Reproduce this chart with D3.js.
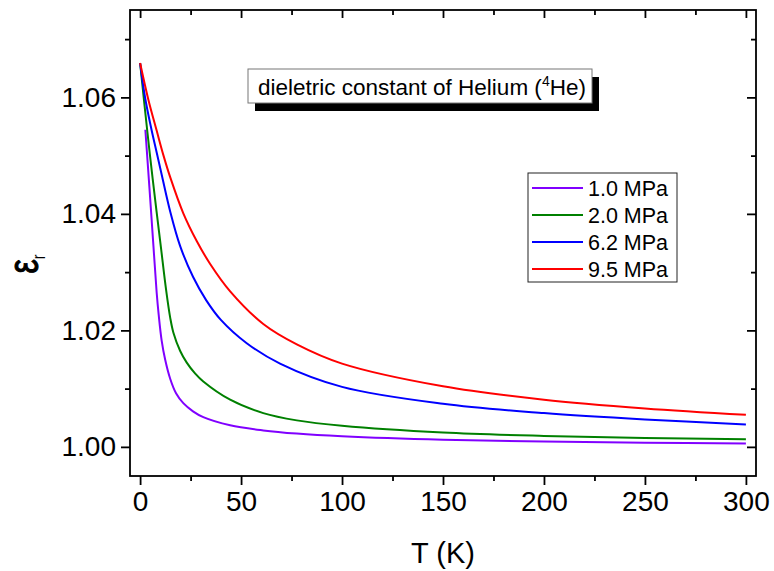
<!DOCTYPE html>
<html>
<head>
<meta charset="utf-8">
<script src="https://cdn.jsdelivr.net/npm/d3@7"></script>
<style>
  body { margin: 0; background: #fff; }
  svg { display: block; font-family: "Liberation Sans", Arial, sans-serif; }
</style>
</head>
<body>
<div id="chart"></div>
<script>
// pressures shown in the legend
const seriesNames = ["1.0 MPa", "2.0 MPa", "6.2 MPa", "9.5 MPa"];
const seriesColors = ["#8000ff", "#008000", "#0000ff", "#ff0000"];

// T (K) and eps_r, one pair of arrays per pressure
const tViolet   = [2.6, 4.6, 6.6, 8.2, 9.2, 10.7, 12.4, 14.9, 17.8, 21.4, 26.2, 31.3, 44.6, 61, 77.6, 100, 150, 200, 250, 300];
const epsViolet = [1.05445, 1.0446, 1.0345, 1.0265, 1.0227, 1.0182, 1.0150, 1.0117, 1.0092, 1.0075, 1.0061, 1.0051, 1.0037, 1.00283, 1.00228, 1.00182, 1.00122, 1.00091, 1.00072, 1.00058];

const tGreen   = [0, 3.5, 6.2, 10.3, 12.9, 14.9, 16.5, 19.8, 23.1, 27.2, 31.3, 44.6, 61, 77.6, 100, 150, 200, 250, 300];
const epsGreen = [1.0659, 1.0544, 1.0461, 1.0343, 1.0269, 1.0222, 1.0196, 1.0165, 1.01446, 1.01262, 1.01123, 1.0081, 1.0058, 1.00455, 1.00362, 1.00246, 1.00188, 1.00153, 1.00129];

const tBlue   = [0, 2.5, 5.5, 8.3, 10.9, 14.9, 19.8, 26.2, 32.7, 40, 52.8, 69.3, 100, 150, 200, 250, 300];
const epsBlue = [1.0659, 1.0599, 1.0547, 1.0504, 1.0464, 1.0404, 1.0345, 1.0292, 1.0252, 1.0218, 1.0178, 1.0143, 1.0103, 1.0074, 1.0058, 1.0047, 1.00385];

const tRed   = [0, 4.1, 8.2, 11.6, 14.9, 21.4, 28.1, 34.7, 44.6, 61, 77.6, 100, 150, 200, 250, 300];
const epsRed = [1.0659, 1.0596, 1.0543, 1.0500, 1.0463, 1.0401, 1.0353, 1.0314, 1.0267, 1.0211, 1.0176, 1.0143, 1.0104, 1.0081, 1.0066, 1.0055];

const xMajor = [0, 50, 100, 150, 200, 250, 300];
const xMinor = [25, 75, 125, 175, 225, 275];
const yMajor = [1.00, 1.02, 1.04, 1.06];
const yMinor = [1.01, 1.03, 1.05, 1.07];

const titleText = "dieletric constant of Helium (";

const W = 774, H = 571;
const margin = { top: 10, right: 18, bottom: 95, left: 130 };
const width = W - margin.left - margin.right;
const height = H - margin.top - margin.bottom;

const svg = d3.select("#chart").append("svg")
    .attr("width", W)
    .attr("height", H);

const g = svg.append("g")
    .attr("transform", `translate(${margin.left},${margin.top})`);

const x = d3.scaleLinear().domain([-5, 305]).range([0, width]);
const y = d3.scaleLinear().domain([0.995, 1.075]).range([height, 0]);

function styleAxis(sel) {
    sel.selectAll(".domain").remove();
    sel.selectAll(".tick line").attr("stroke", "#000").attr("stroke-width", 1.8);
}

function styleLabels(sel) {
    sel.selectAll("text")
        .attr("font-size", 28)
        .attr("fill", "#000")
        .attr("font-family", "Liberation Sans, Arial, sans-serif");
}

// major + minor ticks, outward on left/bottom, inward on top/right
g.append("g").attr("transform", `translate(0,${height})`)
    .call(d3.axisBottom(x).tickValues(xMajor).tickSize(9).tickPadding(6).tickFormat(d3.format("d")))
    .call(styleAxis)
    .call(styleLabels);
g.append("g").attr("transform", `translate(0,${height})`)
    .call(d3.axisBottom(x).tickValues(xMinor).tickSize(5).tickFormat(""))
    .call(styleAxis);
g.append("g")
    .call(d3.axisTop(x).tickValues(xMajor).tickSize(-8).tickFormat(""))
    .call(styleAxis);
g.append("g")
    .call(d3.axisTop(x).tickValues(xMinor).tickSize(-5).tickFormat(""))
    .call(styleAxis);

g.append("g")
    .call(d3.axisLeft(y).tickValues(yMajor).tickSize(9).tickPadding(5).tickFormat(d3.format(".2f")))
    .call(styleAxis)
    .call(styleLabels);
g.append("g")
    .call(d3.axisLeft(y).tickValues(yMinor).tickSize(5).tickFormat(""))
    .call(styleAxis);
g.append("g").attr("transform", `translate(${width},0)`)
    .call(d3.axisRight(y).tickValues(yMajor).tickSize(-9).tickFormat(""))
    .call(styleAxis);
g.append("g").attr("transform", `translate(${width},0)`)
    .call(d3.axisRight(y).tickValues(yMinor).tickSize(-5).tickFormat(""))
    .call(styleAxis);

// frame
g.append("rect")
    .attr("width", width)
    .attr("height", height)
    .attr("fill", "none")
    .attr("stroke", "#000")
    .attr("stroke-width", 1.8);

// curves
const series = [
    { t: tViolet, e: epsViolet },
    { t: tGreen, e: epsGreen },
    { t: tBlue, e: epsBlue },
    { t: tRed, e: epsRed }
];

const line = d3.line()
    .x(d => x(d[0]))
    .y(d => y(d[1]))
    .curve(d3.curveCatmullRom.alpha(0.5));

series.forEach((s, i) => {
    g.append("path")
        .datum(d3.zip(s.t, s.e))
        .attr("d", line)
        .attr("fill", "none")
        .attr("stroke", seriesColors[i])
        .attr("stroke-width", 2);
});

// title box with drop shadow
const tb = { x: 118, y: 59, w: 344, h: 34 };
g.append("rect")
    .attr("x", tb.x + 7).attr("y", tb.y + 8)
    .attr("width", tb.w).attr("height", tb.h)
    .attr("fill", "#000");
g.append("rect")
    .attr("x", tb.x).attr("y", tb.y)
    .attr("width", tb.w).attr("height", tb.h)
    .attr("fill", "#fff")
    .attr("stroke", "#777")
    .attr("stroke-width", 1);
const tt = g.append("text")
    .attr("x", tb.x + 10)
    .attr("y", tb.y + 26)
    .attr("font-size", 22.5)
    .attr("fill", "#000");
tt.append("tspan").text(titleText);
tt.append("tspan").text("4").attr("font-size", 14).attr("dy", -9);
tt.append("tspan").text("He)").attr("dy", 9);

// legend
const lg = g.append("g").attr("transform", "translate(398,163)");
lg.append("rect")
    .attr("width", 149).attr("height", 109)
    .attr("fill", "#fff")
    .attr("stroke", "#222")
    .attr("stroke-width", 1);
seriesNames.forEach((name, i) => {
    const row = lg.append("g").attr("transform", `translate(0,${15 + i * 27})`);
    row.append("line")
        .attr("x1", 4).attr("x2", 55)
        .attr("stroke", seriesColors[i])
        .attr("stroke-width", 2);
    row.append("text")
        .attr("x", 60).attr("y", 7.5)
        .attr("font-size", 21.5)
        .attr("fill", "#000")
        .text(name);
});

// axis titles
svg.append("text")
    .attr("x", margin.left + width / 2)
    .attr("y", 563)
    .attr("text-anchor", "middle")
    .attr("font-size", 29)
    .text("T (K)");

const yt = svg.append("text")
    .attr("transform", "translate(38,264) rotate(-90) scale(1,1.3)")
    .attr("text-anchor", "middle")
    .attr("font-size", 32);
yt.append("tspan").text("\u03b5")
    .attr("stroke", "#000")
    .attr("stroke-width", 0.8);
yt.append("tspan").text("r").attr("font-size", 14).attr("dy", 5);
</script>
</body>
</html>
